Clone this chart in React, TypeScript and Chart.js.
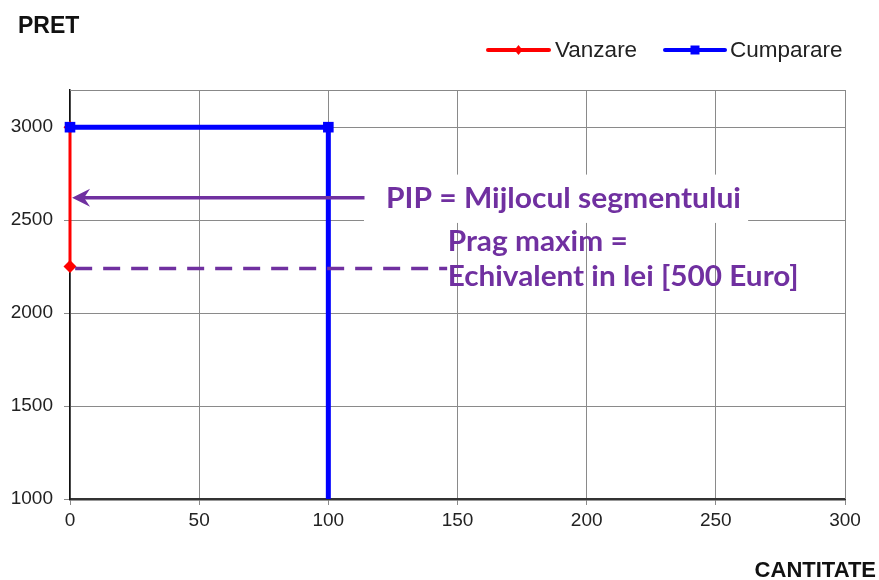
import React, { useEffect, useRef } from "react";
import { Chart, registerables } from "chart.js";

Chart.register(...registerables);

// ---- data ----
const SERIES_NAMES = ["Vanzare", "Cumparare"];
const VANZARE_X = [0, 0];
const VANZARE_Y = [3000, 2250];
const CUMPARARE_X = [0, 100, 100];
const CUMPARARE_Y = [3000, 3000, 1000];
const X_TICKS = [0, 50, 100, 150, 200, 250, 300];
const Y_TICKS = [1000, 1500, 2000, 2500, 3000];
const Y_MIN = 1000;
const Y_MAX = 3200;
const X_MIN = 0;
const X_MAX = 300;
const Y_TITLE = "PRET";
const X_TITLE = "CANTITATE";
const PIP_TEXT = "PIP = Mijlocul segmentului";
const PRAG_LINES = ["Prag maxim =", "Echivalent in lei [500 Euro]"];
const PIP_LEVEL = 2620; // arrow level
const PRAG_LEVEL = 2240; // dashed level

const PURPLE = "#7030A0";

export default function App() {
  const ref = useRef<HTMLCanvasElement | null>(null);

  useEffect(() => {
    document.body.style.margin = "0";
    const canvas = ref.current!;
    const toPts = (xs: number[], ys: number[]) => xs.map((x, i) => ({ x, y: ys[i] }));

    const fitText = (ctx: CanvasRenderingContext2D, text: string, x: number, y: number, w: number) => {
      const m = ctx.measureText(text).width;
      const s = w / m;
      ctx.save();
      ctx.translate(x, y);
      ctx.scale(s, 1);
      ctx.fillText(text, 0, 0);
      ctx.restore();
    };

    const annot = {
      id: "annot",
      beforeDatasetsDraw(chart: any) {
        const ctx = chart.ctx as CanvasRenderingContext2D;
        const xs = chart.scales.x;
        const ys = chart.scales.y;
        const ca = chart.chartArea;
        ctx.save();
        ctx.strokeStyle = "#888";
        ctx.lineWidth = 1;
        ctx.beginPath();
        ctx.moveTo(ca.left, ca.top + 0.5);
        ctx.lineTo(ca.right + 0.5, ca.top + 0.5);
        ctx.lineTo(ca.right + 0.5, ca.bottom);
        ctx.stroke();
        ctx.fillStyle = "#fff";
        const bl = xs.getPixelForValue(113.8);
        const br = xs.getPixelForValue(262.5);
        const bt = ys.getPixelForValue(2745);
        const bb = ys.getPixelForValue(2485);
        ctx.fillRect(bl, bt, br - bl, bb - bt);
        ctx.restore();
      },
      afterDatasetsDraw(chart: any) {
        const ctx = chart.ctx as CanvasRenderingContext2D;
        const xs = chart.scales.x;
        const ys = chart.scales.y;
        ctx.save();
        const ay = ys.getPixelForValue(PIP_LEVEL);
        const ax0 = xs.getPixelForValue(114);
        const ax1 = xs.getPixelForValue(0.8);
        ctx.strokeStyle = PURPLE;
        ctx.fillStyle = PURPLE;
        ctx.lineWidth = 3.5;
        ctx.beginPath();
        ctx.moveTo(ax0, ay);
        ctx.lineTo(ax1 + 8, ay);
        ctx.stroke();
        ctx.beginPath();
        ctx.moveTo(ax1, ay);
        ctx.lineTo(ax1 + 18, ay - 9);
        ctx.lineTo(ax1 + 12, ay);
        ctx.lineTo(ax1 + 18, ay + 9);
        ctx.closePath();
        ctx.fill();
        const dy = ys.getPixelForValue(PRAG_LEVEL);
        ctx.setLineDash([17, 11]);
        ctx.lineWidth = 3.5;
        ctx.beginPath();
        ctx.moveTo(xs.getPixelForValue(2), dy);
        ctx.lineTo(xs.getPixelForValue(146), dy);
        ctx.stroke();
        ctx.setLineDash([]);
        ctx.font = "bold 28px Lato";
        ctx.textBaseline = "alphabetic";
        ctx.textAlign = "left";
        fitText(ctx, PIP_TEXT, xs.getPixelForValue(122.3), ys.getPixelForValue(2565), 355);
        const px = xs.getPixelForValue(146.2);
        fitText(ctx, PRAG_LINES[0], px, ys.getPixelForValue(2333), 180);
        fitText(ctx, PRAG_LINES[1], px, ys.getPixelForValue(2145), 351);
        ctx.restore();
      },
      afterDraw(chart: any) {
        const ctx = chart.ctx as CanvasRenderingContext2D;
        const ds = chart.data.datasets;
        ctx.save();
        ctx.fillStyle = "#111";
        ctx.font = "bold 23px 'Liberation Sans'";
        ctx.textBaseline = "alphabetic";
        ctx.textAlign = "left";
        ctx.fillText(Y_TITLE, 18, 33);
        ctx.font = "bold 22px 'Liberation Sans'";
        ctx.textAlign = "right";
        ctx.fillText(X_TITLE, 876, 577);
        const items = [
          { x0: 488, x1: 549, tx: 555, style: "diamond", color: ds[0].borderColor, label: ds[0].label },
          { x0: 665, x1: 725, tx: 730, style: "square", color: ds[1].borderColor, label: ds[1].label },
        ];
        const ly = 50;
        ctx.font = "22.5px 'Liberation Sans'";
        ctx.textAlign = "left";
        ctx.textBaseline = "middle";
        for (const it of items) {
          ctx.strokeStyle = it.color;
          ctx.fillStyle = it.color;
          ctx.lineWidth = 4;
          ctx.lineCap = "round";
          ctx.beginPath();
          ctx.moveTo(it.x0, ly);
          ctx.lineTo(it.x1, ly);
          ctx.stroke();
          const cx = (it.x0 + it.x1) / 2;
          ctx.beginPath();
          if (it.style === "diamond") {
            ctx.moveTo(cx, ly - 5);
            ctx.lineTo(cx + 4, ly);
            ctx.lineTo(cx, ly + 5);
            ctx.lineTo(cx - 4, ly);
            ctx.closePath();
          } else {
            ctx.rect(cx - 4.5, ly - 4.5, 9, 9);
          }
          ctx.fill();
          ctx.fillStyle = "#222";
          ctx.fillText(it.label, it.tx, ly + 1);
        }
        ctx.restore();
      },
    };

    const chart = new Chart(canvas, {
      type: "line",
      data: {
        datasets: [
          {
            label: SERIES_NAMES[0],
            data: toPts(VANZARE_X, VANZARE_Y),
            borderColor: "#FF0000",
            backgroundColor: "#FF0000",
            borderWidth: 3,
            pointStyle: "rectRot",
            pointRadius: 6.5,
            pointBorderWidth: 0,
            order: 2,
            clip: 8,
          },
          {
            label: SERIES_NAMES[1],
            data: toPts(CUMPARARE_X, CUMPARARE_Y),
            borderColor: "#0000FF",
            backgroundColor: "#0000FF",
            borderWidth: 5,
            pointStyle: "rect",
            pointRadius: [7.5, 7.5, 0],
            pointBorderWidth: 0,
            order: 1,
            clip: 8,
          },
        ] as any,
      },
      options: {
        animation: false,
        responsive: false,
        maintainAspectRatio: false,
        layout: { padding: { top: 90, right: 34, left: 0, bottom: 0 } },
        plugins: { legend: { display: false }, title: { display: false }, tooltip: { enabled: false } },
        elements: { line: { tension: 0 } },
        scales: {
          x: {
            type: "linear",
            min: X_MIN,
            max: X_MAX,
            afterBuildTicks: (s: any) => {
              s.ticks = X_TICKS.map((v) => ({ value: v }));
            },
            afterFit: (s: any) => {
              s.height = 81;
            },
            grid: { color: "#8a8a8a", lineWidth: 1, tickLength: 6, drawTicks: true },
            border: { color: "#333", width: 2.5 },
            ticks: {
              color: "#222",
              font: { family: "'Liberation Sans'", size: 19 },
              padding: 4,
              maxRotation: 0,
              callback: (v: any) => String(v),
            },
          },
          y: {
            type: "linear",
            min: Y_MIN,
            max: Y_MAX,
            afterBuildTicks: (s: any) => {
              s.ticks = Y_TICKS.map((v) => ({ value: v }));
            },
            afterFit: (s: any) => {
              s.width = 70;
            },
            grid: { color: "#8a8a8a", lineWidth: 1, tickLength: 6 },
            border: { color: "#111", width: 1.5 },
            ticks: {
              color: "#222",
              font: { family: "'Liberation Sans'", size: 19 },
              padding: 11,
              callback: (v: any) => String(v),
            },
          },
        },
      },
      plugins: [annot],
    } as any);

    return () => chart.destroy();
  }, []);

  return <canvas ref={ref} width={879} height={580} style={{ display: "block", width: 879, height: 580 }} />;
}
